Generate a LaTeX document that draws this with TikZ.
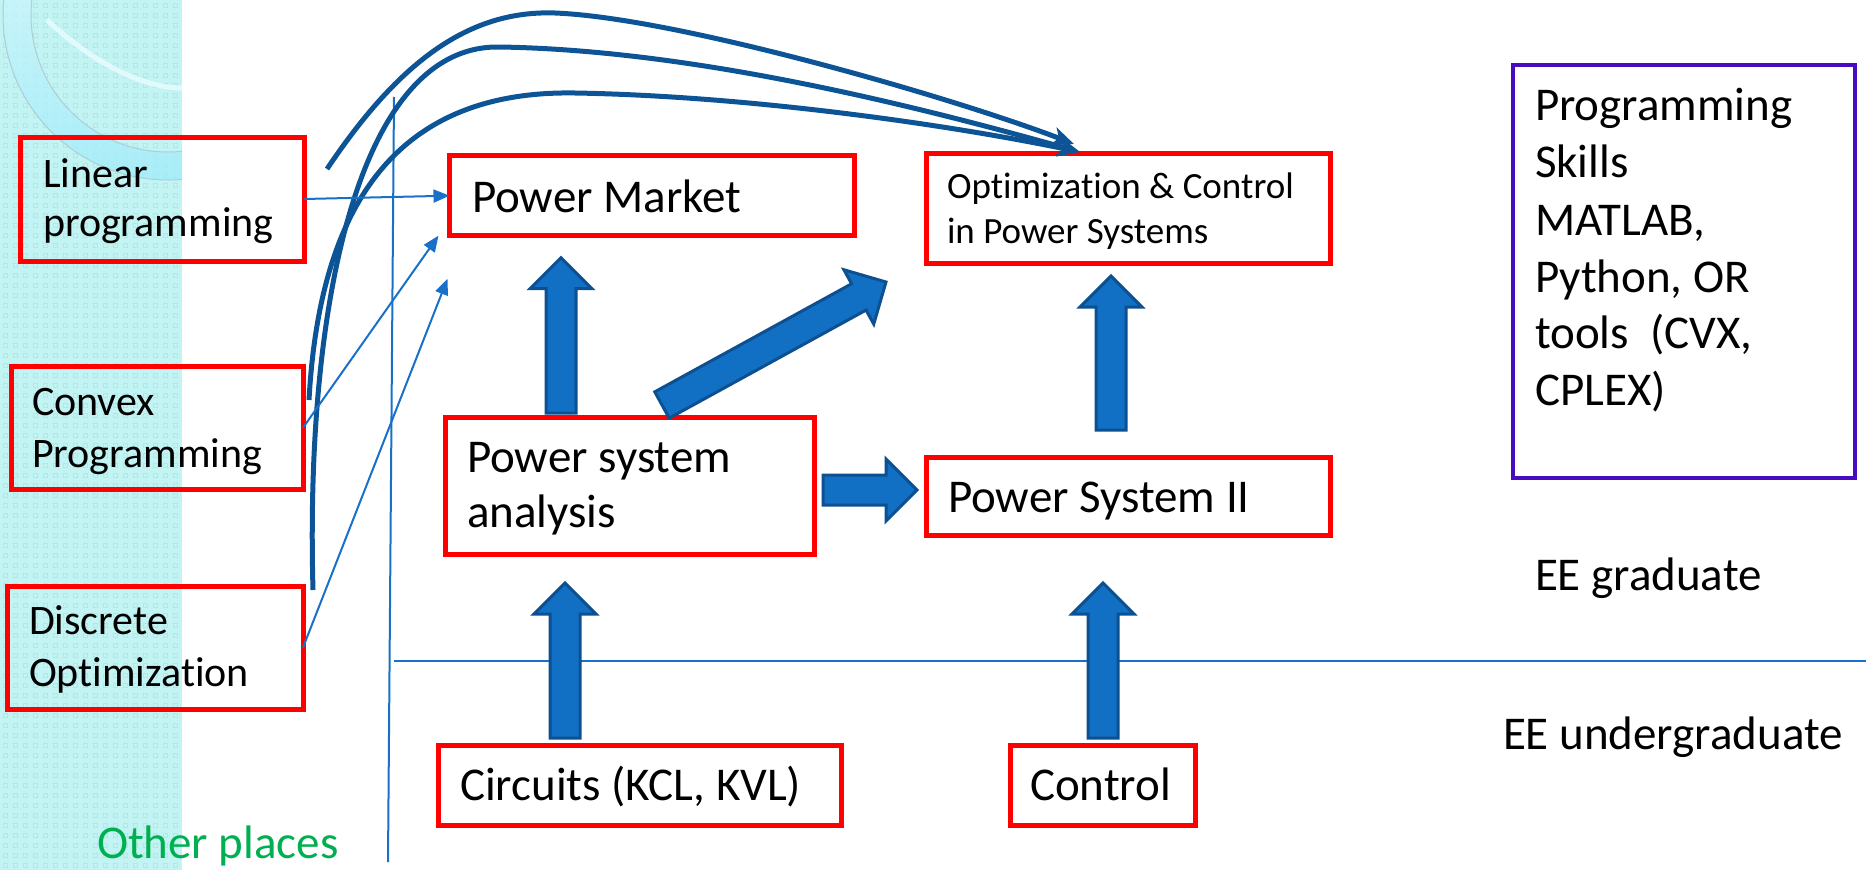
\documentclass[tikz,border=0pt]{standalone}
\usepackage{fontspec}
\setmainfont[Ligatures=NoCommon]{Carlito}
\usetikzlibrary{arrows.meta,calc}

\definecolor{boxred}{RGB}{255,0,0}
\definecolor{skillviolet}{RGB}{72,12,192}
\definecolor{slimblue}{RGB}{24,112,200}
\definecolor{bendblue}{RGB}{12,84,150}
\definecolor{fatfill}{RGB}{18,112,196}
\definecolor{fatedge}{RGB}{12,80,146}
\definecolor{stripcyan}{RGB}{194,244,244}
\definecolor{stripdot}{RGB}{174,232,234}
\definecolor{ringtop}{RGB}{236,252,255}
\definecolor{ringbottom}{RGB}{160,236,250}
\definecolor{ringedge}{RGB}{172,206,212}
\definecolor{othergreen}{RGB}{0,176,80}

\tikzset{
  redbox/.style={draw=boxred, line width=5pt, rectangle, inner sep=0pt, outer sep=0pt},
  violetbox/.style={draw=skillviolet, line width=4.5pt, rectangle, inner sep=0pt, outer sep=0pt},
  lbl/.style={anchor=base west, inner sep=0pt, outer sep=0pt, text=black},
  fsmall/.style={font=\fontsize{42}{51}\selectfont},
  fbig/.style={font=\fontsize{47}{57}\selectfont},
  fmid/.style={font=\fontsize{37}{45}\selectfont},
  slimline/.style={draw=slimblue, line width=2pt},
  slimarrow/.style={slimline, -{Triangle[length=16pt,width=13pt]}},
  bendline/.style={draw=bendblue, line width=5pt, -{Stealth[length=22pt,width=18pt,inset=6pt]}},
  fatbody/.style={fill=fatfill, draw=fatedge, line width=3pt, line join=miter},
}

% block arrow from the first point to the second (tip)
\newcommand\fatarrow[2]{%
  \path #1 coordinate (fatA) #2 coordinate (fatB);
  \pgfpointdiff{\pgfpointanchor{fatA}{center}}{\pgfpointanchor{fatB}{center}}%
  \pgfgetlastxy{\fatdx}{\fatdy}%
  \pgfmathsetmacro\fatlen{veclen(\fatdx,\fatdy)}%
  \pgfmathsetmacro\fatang{atan2(\fatdy,\fatdx)}%
  \draw[fatbody, shift={(fatA)}, rotate=\fatang]
    (0,15) -- (\fatlen-31,15) -- (\fatlen-31,31) -- (\fatlen,0)
    -- (\fatlen-31,-31) -- (\fatlen-31,-15) -- (0,-15) -- cycle;
}

\begin{document}
\begin{tikzpicture}[x=1pt,y=-1pt]
\useasboundingbox (0,0) rectangle (1872,870);

% textured side strip
\fill[stripcyan] (0,0) rectangle (182,870);
\foreach \i in {0,...,17}
  \foreach \j in {0,...,86}
    \draw[stripdot, line width=1pt] (\i*10+3,\j*10+3) rectangle ++(4,4);

% ring ornament in the corner
\begin{scope}
  \clip (0,0) rectangle (182,870);
  \path[even odd rule, top color=ringtop, bottom color=ringbottom, fill opacity=0.75]
    (168,15) circle[radius=165] (168,15) circle[radius=137];
  \draw[ringedge, line width=1pt] (168,15) circle[radius=165];
  \draw[ringedge, line width=1pt] (168,15) circle[radius=137];
  \draw[ringtop, line width=5pt, draw opacity=0.8] (47,20) .. controls (90,60) and (140,88) .. (182,88);
\end{scope}

% divider lines
\coordinate (vtop) at (394,97);
\coordinate (vbot) at (388,862);
\draw[slimline] (vtop) -- (vbot);
\coordinate (hleft) at (394,661);
\coordinate (hright) at (1866,661);
\draw[slimline] (hleft) -- (hright);

% boxes
\node[redbox, minimum width=284pt, minimum height=124pt] (lp) at (162,199) {};
\node[redbox, minimum width=292pt, minimum height=122.5pt] (cvx) at (157,427.75) {};
\node[redbox, minimum width=296pt, minimum height=123pt] (dsc) at (155,647.5) {};
\node[redbox, minimum width=405pt, minimum height=80pt] (pm) at (652,195.7) {};
\node[redbox, minimum width=404pt, minimum height=110pt] (opt) at (1128,208) {};
\node[redbox, minimum width=369pt, minimum height=137pt] (psa) at (629.5,485.5) {};
\node[redbox, minimum width=404pt, minimum height=78pt] (ps2) at (1128,496) {};
\node[redbox, minimum width=403pt, minimum height=80pt] (circ) at (639.5,785) {};
\node[redbox, minimum width=185pt, minimum height=80pt] (ctrl) at (1102.5,785) {};
\node[violetbox, minimum width=342pt, minimum height=413pt] (skills) at (1684,271.5) {};

% box texts
\node[lbl, fsmall] (lpA) at (43,187) {Linear};
\node[lbl, fsmall] (lpB) at (43,236) {programming};
\node[lbl, fsmall] (cvxA) at (32,415) {Convex};
\node[lbl, fsmall] (cvxB) at (32,467) {Programming};
\node[lbl, fsmall] (dscA) at (29,634) {Discrete};
\node[lbl, fsmall] (dscB) at (29,686) {Optimization};
\node[lbl, fbig] (pmA) at (472,212) {Power Market};
\node[lbl, fmid] (optA) at (947,198) {Optimization \& Control};
\node[lbl, fmid] (optB) at (947,243) {in Power Systems};
\node[lbl, fbig] (psaA) at (467,472) {Power system};
\node[lbl, fbig] (psaB) at (467,527) {analysis};
\node[lbl, fbig] (ps2A) at (948,512) {Power System II};
\node[lbl, fbig] (circA) at (460,800) {Circuits (KCL, KVL)};
\node[lbl, fbig] (ctrlA) at (1030,800) {Control};
\node[lbl, fbig] (skA) at (1535,120) {Programming};
\node[lbl, fbig] (skB) at (1535,177) {Skills};
\node[lbl, fbig] (skC) at (1535,235) {MATLAB,};
\node[lbl, fbig] (skD) at (1535,292) {Python, OR};
\node[lbl, fbig] (skE) at (1535,348) {tools\ \ (CVX,};
\node[lbl, fbig] (skF) at (1535,405) {CPLEX)};

% level labels
\node[lbl, fbig] (grad) at (1535,590) {EE graduate};
\node[lbl, fbig] (ugrad) at (1503,749) {EE undergraduate};
\node[lbl, fbig, text=othergreen] (other) at (97,858) {Other places};

% long curved links into the optimization course
\coordinate (bendA) at (327,169);
\coordinate (bendB) at (313,590);
\coordinate (bendC) at (309,400);
\coordinate (optInA) at ($(opt.north west)+(148,-9)$);
\coordinate (optInB) at ($(opt.north west)+(154,-1)$);
\draw[bendline] (bendA) .. controls (400,60) and (470,10) .. (555,13)
  .. controls (680,18) and (960,100) .. (optInA);
\draw[bendline] (bendB) .. controls (305,300) and (360,45) .. (499,47)
  .. controls (700,50) and (930,110) .. (optInB);
\draw[bendline] (bendC) .. controls (320,200) and (400,90) .. (575,93)
  .. controls (750,96) and (950,125) .. (optInB);

% slim links into the power market course
\coordinate (cvxTip) at ($(pm.south west)+(-11,0)$);
\coordinate (dscTip) at ($(pm.south west)+(-2,43)$);
\draw[slimarrow] (lp.east) -- (pm.west);
\draw[slimarrow] (cvx.east) -- (cvxTip);
\draw[slimarrow] (dsc.east) -- (dscTip);

% block arrows between courses
\fatarrow{($(psa.north west)+(116,-4)$)}{($(pm.south west)+(111.5,22)$)}
\fatarrow{($(psa.north west)+(217,-12)$)}{($(opt.south west)+(-40,19)$)}
\fatarrow{($(psa.east)+(9,4.5)$)}{($(ps2.west)+(-9,-6)$)}
\fatarrow{($(ps2.north west)+(185,-27)$)}{($(opt.south west)+(185,13)$)}
\fatarrow{($(circ.north west)+(127,-7)$)}{($(psa.south west)+(120,29)$)}
\fatarrow{($(ctrl.north west)+(93,-7)$)}{($(ps2.south west)+(177,48)$)}

\end{tikzpicture}
\end{document}
